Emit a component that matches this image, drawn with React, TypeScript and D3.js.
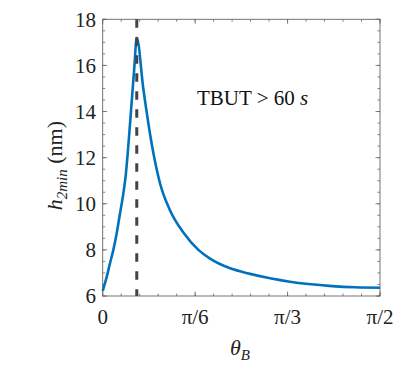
import React from 'react';
import * as d3 from 'd3';

// theta (rad) vs minimum thickness (nm)
const thetaValues = [0, 0.023, 0.041, 0.060, 0.079, 0.098, 0.117, 0.130, 0.145, 0.162, 0.178, 0.193, 0.230, 0.287, 0.325, 0.381, 0.457, 0.542, 0.608, 0.722, 0.835, 0.948, 1.061, 1.165, 1.300, 1.430, 1.571];
const hValues = [6.22, 6.84, 7.41, 7.99, 8.71, 9.58, 10.45, 11.2, 12.5, 14.2, 15.8, 17.2, 15.0, 12.2, 10.88, 9.72, 8.75, 8.0, 7.62, 7.2, 6.96, 6.77, 6.62, 6.52, 6.43, 6.38, 6.36];
const markerTheta = 0.193;

const xTicks = [0, Math.PI / 6, Math.PI / 3, Math.PI / 2];
const xTickLabels = ['0', 'π/6', 'π/3', 'π/2'];
const yTicks = [6, 8, 10, 12, 14, 16, 18];

const W = 407;
const H = 370;
const left = 102.7, right = 380, top = 19.3, bottom = 296;
const font = "'Liberation Serif', 'DejaVu Serif', serif";

const App = () => {
  const x = d3.scaleLinear().domain([0, Math.PI / 2]).range([left, right]);
  const y = d3.scaleLinear().domain([6, 18]).range([bottom, top]);

  const pts = thetaValues.map((t, i) => [t, hValues[i]]);
  const line = d3.line()
    .x(d => x(d[0]))
    .y(d => y(d[1]))
    .curve(d3.curveMonotoneX);

  const xMinor = d3.range(0, 16).map(i => i * Math.PI / 30);
  const yMinor = d3.range(6, 18.01, 0.5);
  const tc = '#666';

  return (
    <svg width={W} height={H} style={{ position: 'absolute', left: 0, top: 0, background: '#fff' }}>
      {/* minor ticks */}
      {xMinor.map((t, i) => (
        <g key={'xm' + i} stroke={tc} strokeWidth={0.8}>
          <line x1={x(t)} x2={x(t)} y1={bottom} y2={bottom - 2.5} />
          <line x1={x(t)} x2={x(t)} y1={top} y2={top + 2.5} />
        </g>
      ))}
      {yMinor.map((v, i) => (
        <g key={'ym' + i} stroke={tc} strokeWidth={0.8}>
          <line x1={left} x2={left + 2.5} y1={y(v)} y2={y(v)} />
          <line x1={right} x2={right - 2.5} y1={y(v)} y2={y(v)} />
        </g>
      ))}
      {/* major ticks */}
      {xTicks.map((t, i) => (
        <g key={'xt' + i} stroke={tc} strokeWidth={0.8}>
          <line x1={x(t)} x2={x(t)} y1={bottom} y2={bottom - 4.5} />
          <line x1={x(t)} x2={x(t)} y1={top} y2={top + 4.5} />
        </g>
      ))}
      {yTicks.map((v, i) => (
        <g key={'yt' + i} stroke={tc} strokeWidth={0.8}>
          <line x1={left} x2={left + 4.5} y1={y(v)} y2={y(v)} />
          <line x1={right} x2={right - 4.5} y1={y(v)} y2={y(v)} />
        </g>
      ))}
      <rect x={left} y={top} width={right - left} height={bottom - top} fill="none" stroke={tc} strokeWidth={0.9} />

      {/* data */}
      <path d={line(pts as any) || ''} fill="none" stroke="#0072BD" strokeWidth={2.6} strokeLinejoin="round" />
      <line x1={x(markerTheta)} x2={x(markerTheta)} y1={top} y2={bottom}
        stroke="#444" strokeWidth={3} strokeDasharray="8.5,9.5" />

      {/* tick labels */}
      {yTicks.map((v, i) => (
        <text key={'yl' + i} x={96} y={y(v)} dy="0.35em" textAnchor="end"
          style={{ fontFamily: font }} fontSize={21} fill="#222">{v}</text>
      ))}
      {xTicks.map((t, i) => (
        <text key={'xl' + i} x={x(t)} y={316.5} dy="0.35em" textAnchor="middle"
          style={{ fontFamily: font }} fontSize={21} fill="#222">{xTickLabels[i]}</text>
      ))}

      {/* axis labels */}
      <text x={240} y={347} dy="0.35em" textAnchor="middle" style={{ fontFamily: font }} fontSize={22} fill="#222">
        <tspan fontStyle="italic">θ</tspan>
        <tspan fontStyle="italic" fontSize={15} dy={5}>B</tspan>
      </text>
      <text transform={`translate(62,${(top + bottom) / 2 + 8}) rotate(-90)`} textAnchor="middle"
        style={{ fontFamily: font }} fontSize={22} fill="#222">
        <tspan fontStyle="italic">h</tspan>
        <tspan fontStyle="italic" fontSize={15} dy={5}>2min</tspan>
        <tspan dy={-5}> (nm)</tspan>
      </text>

      {/* annotation */}
      <text x={197} y={105} style={{ fontFamily: font }} fontSize={21} fill="#111">
        <tspan>TBUT &gt; 60 </tspan>
        <tspan fontStyle="italic">s</tspan>
      </text>
    </svg>
  );
};

export default App;
